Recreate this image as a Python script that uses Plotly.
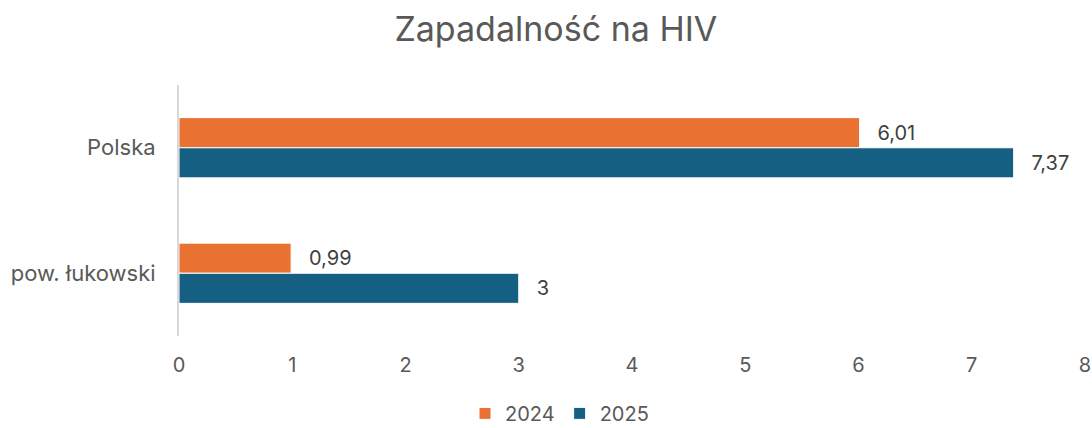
import plotly.graph_objects as go

categories = ["Polska", "pow. łukowski"]
series_names = ["2024", "2025"]
values_2024 = [6.01, 0.99]
values_2025 = [7.37, 3]
colors = ["#E97132", "#156082"]
x_ticks = [0, 1, 2, 3, 4, 5, 6, 7, 8]

fig = go.Figure()
for name, vals, col in zip(series_names, [values_2024, values_2025], colors):
    fig.add_trace(go.Bar(
        name=name, y=categories, x=vals, orientation="h",
        marker=dict(color=col, line=dict(color="white", width=1)),
        text=vals, texttemplate="\u00a0\u00a0\u2009%{x}", textposition="outside",
        textfont=dict(size=20, color="#404040"), cliponaxis=False,
    ))

fig.update_layout(
    width=1092, height=428,
    template="plotly_white",
    paper_bgcolor="white", plot_bgcolor="white",
    font=dict(family="Inter, Open Sans, sans-serif", color="#595959"),
    separators=", ",
    title=dict(text="Zapadalność na HIV", x=0.509, xanchor="center", y=0.932, yanchor="middle",
               font=dict(size=34, color="#595959")),
    barmode="group", bargap=0.52, bargroupgap=0,
    margin=dict(l=179, r=7, t=85, b=92, autoexpand=False),
    legend=dict(orientation="h", x=0.42, xanchor="center", y=-0.386, yanchor="bottom",
                font=dict(size=20, color="#595959"), itemwidth=30, traceorder="normal"),
    showlegend=True,
)
fig.update_xaxes(range=[0, 8], tickvals=x_ticks, showgrid=False, zeroline=False,
                 showline=False, tickfont=dict(size=20, color="#595959"),
                 ticklabelstandoff=15, automargin=False, fixedrange=True)
fig.update_yaxes(autorange="reversed", showgrid=False, zeroline=False,
                 showline=True, linecolor="#D9D9D9", linewidth=2,
                 tickfont=dict(size=22, color="#595959"), ticklabelstandoff=17,
                 automargin=False)

fig.write_html("out.html", config={"displayModeBar": False},
               post_script="document.body.style.margin='0';document.body.style.overflow='hidden';")
